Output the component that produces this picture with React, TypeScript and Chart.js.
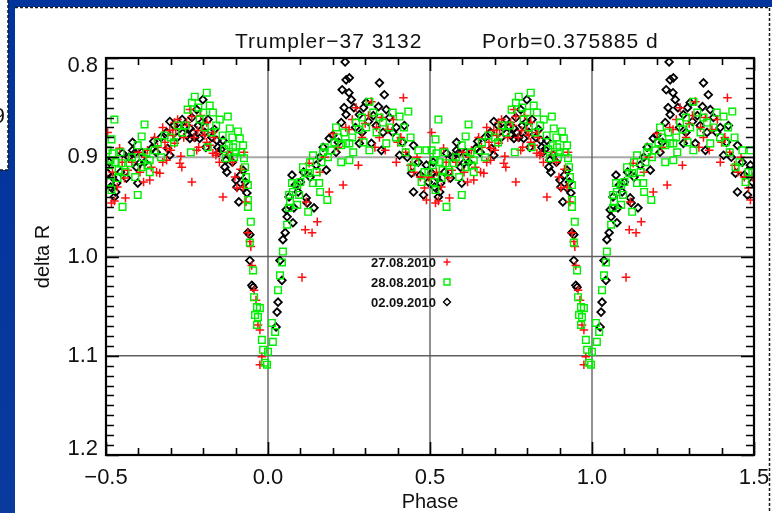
import { useEffect, useRef } from 'react';
import { Chart, registerables } from 'chart.js';

Chart.register(...registerables);

// Night labels
const nightLabels = ['27.08.2010', '28.08.2010', '02.09.2010'];

// 27.08.2010 — orbital phase and delta R
const phase0827 = [
  -0.495, -0.458, -0.498, -0.483, -0.474, -0.440, -0.443, -0.433, -0.384, -0.372,
  -0.365, -0.344, -0.334, -0.341, -0.325, -0.313, -0.313, -0.325, -0.303, -0.294,
  -0.288, -0.288, -0.279, -0.272, -0.266, -0.269, -0.251, -0.241, -0.235, -0.217,
  -0.201, -0.189, -0.189, -0.220, -0.214, -0.170, -0.158, -0.161, -0.235, -0.139,
  -0.102, -0.096, -0.077, -0.074, -0.068, -0.062, -0.056, -0.053, -0.050, -0.043,
  -0.037, -0.031, -0.025, -0.019, -0.025, 0.105, 0.115, 0.136, 0.152, 0.118,
  0.189, 0.232, 0.127, 0.201, 0.272, 0.319, 0.418, 0.387, 0.344, 0.279,
  0.396, 0.483, 0.489, 0.440, 0.362, 0.250, 0.300, 0.330, 0.410, 0.460,
  0.470, -0.110, -0.085, -0.170, -0.420, -0.400, -0.360,
  -0.480, -0.465, -0.450, -0.395, -0.378, -0.350, -0.318, -0.300, -0.285, -0.260,
  -0.245, -0.228, -0.208, -0.195, -0.180, -0.165, -0.150, -0.125,
  0.160, 0.175, 0.215, 0.240, 0.260, 0.290, 0.310, 0.335, 0.350, 0.370,
  0.400, 0.425, 0.450, 0.495,
];
const delta0827 = [
  0.875, 0.891, 0.921, 0.946, 0.944, 0.941, 0.921, 0.913, 0.925, 0.893,
  0.923, 0.915, 0.916, 0.890, 0.905, 0.903, 0.891, 0.870, 0.873, 0.878,
  0.886, 0.865, 0.862, 0.906, 0.910, 0.899, 0.865, 0.852, 0.859, 0.873,
  0.873, 0.865, 0.885, 0.893, 0.890, 0.896, 0.896, 0.898, 0.925, 0.940,
  0.920, 0.931, 0.930, 0.895, 0.945, 0.976, 0.985, 0.990, 1.009, 1.034,
  1.044, 1.069, 1.074, 1.101, 1.109, 1.021, 0.973, 0.976, 0.965, 0.945,
  0.935, 0.928, 0.906, 0.876, 0.850, 0.844, 0.840, 0.862, 0.880, 0.908,
  0.905, 0.931, 0.943, 0.908, 0.893, 0.872, 0.866, 0.890, 0.880, 0.900,
  0.920, 0.905, 0.912, 0.875, 0.905, 0.895, 0.910,
  0.915, 0.930, 0.905, 0.915, 0.900, 0.880, 0.885, 0.893, 0.872, 0.880,
  0.868, 0.880, 0.858, 0.878, 0.888, 0.880, 0.905, 0.895,
  0.915, 0.900, 0.890, 0.870, 0.862, 0.880, 0.858, 0.870, 0.860, 0.872,
  0.885, 0.895, 0.915, 0.920,
];

// 28.08.2010 — orbital phase and delta R
const phase0828 = [
  -0.495, -0.483, -0.474, -0.480, -0.492, -0.486, -0.452, -0.461, -0.489, -0.483,
  -0.464, -0.449, -0.427, -0.402, -0.402, -0.390, -0.381, -0.387, -0.365, -0.372,
  -0.390, -0.365, -0.350, -0.319, -0.279, -0.248, -0.235, -0.226, -0.189, -0.180,
  -0.170, -0.149, -0.124, -0.118, -0.093, -0.087, -0.108, -0.077, -0.121, -0.099,
  -0.074, -0.130, -0.238, -0.186, -0.211, -0.068, -0.062, -0.062, -0.062, -0.053,
  -0.056, -0.046, -0.043, -0.034, -0.025, -0.040, -0.031, -0.034, -0.019, -0.015,
  -0.009, -0.003, 0.000, 0.012, 0.022, 0.015, 0.031, 0.037, 0.043, 0.046,
  0.059, 0.068, 0.065, 0.077, 0.090, 0.074, 0.065, 0.090, 0.115, 0.124,
  0.139, 0.158, 0.161, 0.183, 0.124, 0.096, 0.139, 0.170, 0.195, 0.217,
  0.226, 0.241, 0.226, 0.251, 0.263, 0.251, 0.272, 0.303, 0.313, 0.344,
  0.375, 0.406, 0.433, 0.313, 0.365, 0.412, 0.464, 0.489, 0.443, 0.483,
  0.474,
  -0.470, -0.455, -0.440, -0.420, -0.410, -0.375, -0.340, -0.330, -0.300, -0.290,
  -0.265, -0.255, -0.215, -0.200, -0.195, -0.175, -0.160, -0.140, -0.135, -0.110,
  -0.105, -0.082, -0.071,
  0.100, 0.108, 0.130, 0.150, 0.165, 0.175, 0.185, 0.205, 0.210, 0.235,
  0.260, 0.280, 0.290, 0.295, 0.325, 0.335, 0.355, 0.385, 0.395, 0.420,
  0.425, 0.440, 0.455, 0.495,
];
const delta0828 = [
  0.893, 0.882, 0.862, 0.896, 0.908, 0.903, 0.906, 0.913, 0.925, 0.933,
  0.921, 0.950, 0.906, 0.888, 0.938, 0.879, 0.867, 0.900, 0.903, 0.908,
  0.910, 0.915, 0.893, 0.878, 0.868, 0.852, 0.845, 0.839, 0.835, 0.848,
  0.855, 0.862, 0.859, 0.871, 0.874, 0.881, 0.890, 0.888, 0.888, 0.895,
  0.901, 0.901, 0.895, 0.890, 0.862, 0.920, 0.928, 0.943, 0.950, 0.965,
  0.986, 1.014, 1.041, 1.051, 1.052, 1.059, 1.061, 1.069, 1.084, 1.094,
  1.107, 1.109, 1.096, 1.067, 1.076, 1.086, 1.034, 1.019, 1.006, 0.995,
  0.968, 0.945, 0.938, 0.935, 0.928, 0.926, 0.951, 0.948, 0.916, 0.916,
  0.926, 0.926, 0.935, 0.943, 0.955, 0.938, 0.898, 0.895, 0.893, 0.880,
  0.888, 0.886, 0.905, 0.886, 0.895, 0.903, 0.865, 0.870, 0.844, 0.860,
  0.870, 0.859, 0.854, 0.893, 0.886, 0.885, 0.893, 0.893, 0.910, 0.915,
  0.925,
  0.905, 0.895, 0.915, 0.900, 0.920, 0.895, 0.885, 0.900, 0.880, 0.885,
  0.875, 0.868, 0.850, 0.855, 0.870, 0.875, 0.868, 0.878, 0.892, 0.880,
  0.900, 0.895, 0.910,
  0.925, 0.910, 0.905, 0.915, 0.905, 0.890, 0.900, 0.885, 0.870, 0.875,
  0.880, 0.872, 0.860, 0.885, 0.855, 0.875, 0.865, 0.855, 0.880, 0.870,
  0.895, 0.880, 0.905, 0.915,
];

// 02.09.2010 — orbital phase and delta R
const phase0902 = [
  -0.495, -0.480, -0.467, -0.474, -0.486, -0.449, -0.437, -0.418, -0.418, -0.412,
  -0.406, -0.396, -0.402, -0.359, -0.353, -0.313, -0.303, -0.310, -0.303, -0.272,
  -0.257, -0.241, -0.232, -0.235, -0.220, -0.201, -0.204, -0.241, -0.226, -0.211,
  -0.192, -0.173, -0.158, -0.139, -0.155, -0.152, -0.130, -0.133, -0.127, -0.077,
  -0.099, -0.096, -0.077, -0.065, -0.090, -0.062, -0.056, -0.056, -0.050, -0.046,
  0.025, 0.028, 0.031, 0.043, 0.037, 0.046, 0.053, 0.059, 0.077, 0.080,
  0.056, 0.093, 0.074, 0.084, 0.118, 0.142, 0.121, 0.149, 0.180, 0.189,
  0.217, 0.226, 0.241, 0.235, 0.229, 0.241, 0.251, 0.238, 0.257, 0.344,
  0.359, 0.303, 0.341, 0.365, 0.282, 0.310, 0.334, 0.396, 0.421, 0.282,
  0.319, 0.350, 0.406, 0.449, 0.464, 0.443, 0.489, 0.449, 0.480,
  -0.490, -0.470, -0.455, -0.430, -0.390, -0.380, -0.345, -0.330, -0.290, -0.280,
  -0.265, -0.250, -0.215, -0.195, -0.185, -0.165, -0.145, -0.120, -0.110, -0.085,
  -0.070,
  0.065, 0.100, 0.110, 0.130, 0.160, 0.170, 0.200, 0.210, 0.250, 0.265,
  0.270, 0.290, 0.295, 0.325, 0.355, 0.375, 0.385, 0.415, 0.430, 0.470,
  0.495,
];
const delta0902 = [
  0.916, 0.920, 0.926, 0.940, 0.930, 0.896, 0.921, 0.885, 0.893, 0.896,
  0.910, 0.906, 0.926, 0.891, 0.884, 0.875, 0.864, 0.891, 0.898, 0.871,
  0.870, 0.871, 0.875, 0.860, 0.852, 0.842, 0.865, 0.881, 0.880, 0.881,
  0.890, 0.880, 0.883, 0.883, 0.890, 0.895, 0.903, 0.910, 0.915, 0.913,
  0.923, 0.930, 0.931, 0.936, 0.945, 0.976, 0.978, 1.004, 1.029, 1.031,
  1.071, 1.056, 1.046, 1.024, 1.004, 0.983, 0.976, 0.960, 0.966, 0.951,
  0.953, 0.935, 0.918, 0.928, 0.941, 0.951, 0.946, 0.908, 0.913, 0.881,
  0.885, 0.865, 0.857, 0.850, 0.832, 0.822, 0.820, 0.804, 0.842, 0.825,
  0.837, 0.845, 0.849, 0.852, 0.857, 0.864, 0.868, 0.870, 0.868, 0.886,
  0.886, 0.893, 0.898, 0.888, 0.905, 0.916, 0.908, 0.935, 0.938,
  0.905, 0.935, 0.915, 0.900, 0.895, 0.905, 0.895, 0.880, 0.868, 0.880,
  0.862, 0.878, 0.868, 0.875, 0.862, 0.872, 0.892, 0.898, 0.905, 0.918,
  0.925,
  0.940, 0.925, 0.915, 0.920, 0.900, 0.890, 0.878, 0.895, 0.835, 0.850,
  0.870, 0.875, 0.850, 0.858, 0.875, 0.860, 0.875, 0.885, 0.900, 0.918,
  0.925,
];

// Axis ticks and reference lines
const xTicks = [-0.5, 0, 0.5, 1.0, 1.5];
const xTickLabels = ['\u22120.5', '0.0', '0.5', '1.0', '1.5'];
const yTicks = [0.8, 0.9, 1.0, 1.1, 1.2];
const yTickLabels = ['0.8', '0.9', '1.0', '1.1', '1.2'];
const gridPhases = [0, 0.5, 1.0];
const gridDeltas = [0.9, 1.0, 1.1];

const FONT = '"Liberation Sans", Arial, Helvetica, sans-serif';

// Each night is plotted over two cycles: phase and phase + 1
function fold(phases: number[], deltas: number[]) {
  const pts = phases.map((p, i) => ({ x: p, y: deltas[i] }));
  return pts.concat(phases.map((p, i) => ({ x: p + 1, y: deltas[i] })));
}

const nightStyles = [
  { color: '#ff1010', style: 'cross', radius: 4.3, width: 1.5 },
  { color: '#00ee00', style: 'rect', radius: 4.7, width: 1.4 },
  { color: '#000000', style: 'rectRot', radius: 3.8, width: 1.8 },
];

function drawMarker(ctx: CanvasRenderingContext2D, kind: string, x: number, y: number, color: string) {
  ctx.save();
  ctx.strokeStyle = color;
  ctx.lineWidth = 1.4;
  ctx.beginPath();
  if (kind === 'cross') {
    ctx.moveTo(x - 3.5, y); ctx.lineTo(x + 3.5, y);
    ctx.moveTo(x, y - 3.5); ctx.lineTo(x, y + 3.5);
  } else if (kind === 'rect') {
    ctx.rect(x - 3, y - 3, 6, 6);
  } else {
    ctx.moveTo(x, y - 3.5); ctx.lineTo(x + 3.5, y); ctx.lineTo(x, y + 3.5); ctx.lineTo(x - 3.5, y); ctx.closePath();
  }
  ctx.stroke();
  ctx.restore();
}

const slidePlugin = {
  id: 'slide',
  beforeDraw(chart: any) {
    const { ctx, width, height } = chart;
    ctx.save();
    const g = ctx.createLinearGradient(0, 0, 0, height);
    g.addColorStop(0, '#00339c');
    g.addColorStop(1, '#0a3a9e');
    ctx.fillStyle = g;
    ctx.fillRect(0, 0, width, height);
    ctx.fillStyle = '#ffffff';
    ctx.fillRect(0, 0, 8, 170);
    ctx.fillRect(15, 7, width - 15, height - 7);
    // edge of a neighbouring slide object
    ctx.fillStyle = '#111';
    ctx.font = `22px ${FONT}`;
    ctx.textAlign = 'right';
    ctx.textBaseline = 'middle';
    ctx.fillText('9', 5, 117);
    ctx.strokeStyle = '#1a1a1a';
    ctx.lineWidth = 1.5;
    ctx.setLineDash([3, 2]);
    ctx.beginPath();
    ctx.moveTo(8, 0); ctx.lineTo(8, 170); ctx.lineTo(0, 170);
    ctx.stroke();
    ctx.beginPath();
    ctx.moveTo(15, 7.5); ctx.lineTo(769.5, 7.5); ctx.lineTo(769.5, height);
    ctx.stroke();
    ctx.restore();
  },
};

const framePlugin = {
  id: 'frame',
  beforeDatasetsDraw(chart: any) {
    const { ctx, chartArea: a, scales } = chart;
    const xs = scales.x, ys = scales.y;
    ctx.save();
    gridDeltas.forEach((v) => {
      const y = ys.getPixelForValue(v);
      ctx.strokeStyle = v === 0.9 ? '#a8a8a8' : '#606060';
      ctx.lineWidth = v === 0.9 ? 2 : 1.3;
      ctx.beginPath(); ctx.moveTo(a.left, y); ctx.lineTo(a.right, y); ctx.stroke();
    });
    gridPhases.forEach((v) => {
      const x = xs.getPixelForValue(v);
      ctx.strokeStyle = '#555555';
      ctx.lineWidth = 1.3;
      ctx.beginPath(); ctx.moveTo(x, a.top); ctx.lineTo(x, a.bottom); ctx.stroke();
    });
    ctx.restore();
  },
  afterDatasetsDraw(chart: any) {
    const { ctx, chartArea: a, scales } = chart;
    const xs = scales.x, ys = scales.y;
    ctx.save();
    ctx.strokeStyle = '#000';
    // inward ticks: y every 0.01, x every 0.1
    ctx.lineWidth = 1.6;
    ctx.beginPath();
    for (let k = 0; k <= 40; k++) {
      const v = 0.8 + k * 0.01;
      const y = Math.round(ys.getPixelForValue(v)) + 0.5;
      const len = k % 10 === 0 ? 13 : 8;
      ctx.moveTo(a.left, y); ctx.lineTo(a.left + len, y);
      ctx.moveTo(a.right, y); ctx.lineTo(a.right - len, y);
    }
    for (let k = 0; k <= 20; k++) {
      const v = -0.5 + k * 0.1;
      const x = Math.round(xs.getPixelForValue(v)) + 0.5;
      const len = k % 5 === 0 ? 13 : 7;
      ctx.moveTo(x, a.top); ctx.lineTo(x, a.top + len);
      ctx.moveTo(x, a.bottom); ctx.lineTo(x, a.bottom - len);
    }
    ctx.stroke();
    ctx.lineWidth = 2.2;
    ctx.strokeRect(a.left, a.top, a.right - a.left, a.bottom - a.top);

    // tick labels
    ctx.fillStyle = '#111';
    ctx.font = `22px ${FONT}`;
    ctx.textAlign = 'right';
    ctx.textBaseline = 'middle';
    yTicks.forEach((v, i) => {
      const y = Math.min(Math.max(ys.getPixelForValue(v), a.top + 8), a.bottom - 6);
      ctx.fillText(yTickLabels[i], a.left - 8, y);
    });
    ctx.textAlign = 'center';
    xTicks.forEach((v, i) => {
      ctx.fillText(xTickLabels[i], xs.getPixelForValue(v), a.bottom + 23);
    });

    // title
    ctx.font = `21px ${FONT}`;
    (ctx as any).letterSpacing = '1px';
    ctx.textAlign = 'left';
    ctx.textBaseline = 'alphabetic';
    ctx.fillText('Trumpler\u221237 3132', a.left + 129, a.top - 10);
    ctx.fillText('Porb=0.375885 d', a.left + 376, a.top - 10);
    (ctx as any).letterSpacing = '0px';

    // legend inside the plot
    ctx.font = `bold 13px ${FONT}`;
    ctx.textAlign = 'right';
    ctx.textBaseline = 'middle';
    nightLabels.forEach((label, i) => {
      const y = a.top + 204 + i * 20;
      ctx.fillStyle = '#111';
      ctx.fillText(label, a.left + 330, y + 1);
      drawMarker(ctx, nightStyles[i].style, a.left + 341, y, nightStyles[i].color);
    });
    ctx.restore();
  },
};

export default function App() {
  const ref = useRef<HTMLCanvasElement>(null);

  useEffect(() => {
    if (!ref.current) return;
    const series = [
      { label: nightLabels[1], data: fold(phase0828, delta0828), s: nightStyles[1] },
      { label: nightLabels[0], data: fold(phase0827, delta0827), s: nightStyles[0] },
      { label: nightLabels[2], data: fold(phase0902, delta0902), s: nightStyles[2] },
    ];
    const chart = new Chart(ref.current, {
      type: 'scatter',
      data: {
        datasets: series.map((d) => ({
          label: d.label,
          data: d.data,
          pointStyle: d.s.style as any,
          pointRadius: d.s.radius,
          pointBorderColor: d.s.color,
          pointBackgroundColor: 'rgba(0,0,0,0)',
          pointBorderWidth: d.s.width,
          showLine: false,
        })),
      },
      options: {
        animation: false,
        responsive: false,
        devicePixelRatio: 1,
        events: [],
        layout: { padding: { left: 0, top: 58, right: 18, bottom: 0 } },
        plugins: { legend: { display: false }, tooltip: { enabled: false }, title: { display: false } },
        scales: {
          x: {
            type: 'linear',
            min: -0.5,
            max: 1.5,
            grid: { display: false },
            border: { display: false },
            afterBuildTicks: (sc: any) => { sc.ticks = xTicks.map((v) => ({ value: v })); },
            afterFit: (sc: any) => { sc.height = 58; },
            ticks: { display: false },
            title: {
              display: true,
              text: 'Phase',
              color: '#111',
              font: { family: FONT, size: 20, lineHeight: 1 },
              padding: { top: 0, bottom: 1 },
            },
          },
          y: {
            type: 'linear',
            reverse: true,
            min: 0.8,
            max: 1.2,
            grid: { display: false },
            border: { display: false },
            afterBuildTicks: (sc: any) => { sc.ticks = yTicks.map((v) => ({ value: v })); },
            afterFit: (sc: any) => { sc.width = 106; },
            ticks: { display: false },
            title: {
              display: true,
              text: 'delta R',
              color: '#111',
              font: { family: FONT, size: 20, lineHeight: 1 },
              padding: { top: 33, bottom: 0 },
            },
          },
        },
      },
      plugins: [slidePlugin, framePlugin],
    });
    return () => chart.destroy();
  }, []);

  return (
    <div style={{ position: 'absolute', left: 0, top: 0, width: 772, height: 513 }}>
      <canvas ref={ref} width={772} height={513} />
    </div>
  );
}
